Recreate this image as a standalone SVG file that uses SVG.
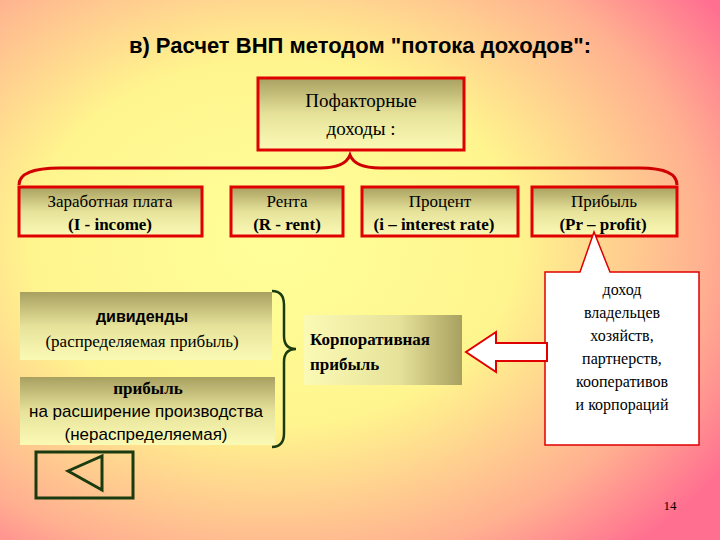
<svg xmlns="http://www.w3.org/2000/svg" width="720" height="540" viewBox="0 0 720 540">
<defs>
<radialGradient id="bg" cx="0.38" cy="0.45" r="0.75">
<stop offset="0" stop-color="#ffff99"/><stop offset="0.45" stop-color="#fff58e"/><stop offset="0.8" stop-color="#ffb090"/><stop offset="1" stop-color="#ff7090"/>
</radialGradient>
<linearGradient id="bx" x1="0" y1="0" x2="0" y2="1">
<stop offset="0" stop-color="#a8a060"/><stop offset="0.5" stop-color="#e6e29a"/><stop offset="1" stop-color="#fbfab5"/>
</linearGradient>
<linearGradient id="bx2" x1="0" y1="0" x2="1" y2="0">
<stop offset="0" stop-color="#fbfab5"/><stop offset="0.6" stop-color="#e6e29a"/><stop offset="1" stop-color="#a8a060"/>
</linearGradient>
<style>
.r{fill:url(#bx);stroke:#e00000;stroke-width:3}
.p{fill:url(#bx)}
.sf{font-family:'Liberation Serif','DejaVu Serif',serif}
.ss{font-family:'Liberation Sans','DejaVu Sans',sans-serif}
</style>
</defs>
<rect width="720" height="540" fill="url(#bg)"/>
<text class="ss" x="360" y="53" font-size="22" font-weight="bold" text-anchor="middle">в) Расчет ВНП методом "потока доходов":</text>
<g class="sf" font-size="17" text-anchor="middle">
<g id="top"><rect class="r" x="258" y="78" width="206" height="72"/>
<text x="361" y="107" font-size="19">Пофакторные</text><text x="361" y="135" font-size="19">доходы :</text></g>
<g id="n1"><rect class="r" x="19" y="187" width="183" height="49"/><text x="110" y="207">Заработная плата</text><text x="110" y="230" font-weight="bold">(I - income)</text></g>
<g id="n2"><rect class="r" x="231" y="187" width="112" height="49"/><text x="287" y="207">Рента</text><text x="287" y="230" font-weight="bold">(R - rent)</text></g>
<g id="n3"><rect class="r" x="362" y="187" width="156" height="49"/><text x="440" y="207">Процент</text><text x="434" y="230" font-weight="bold">(i – interest rate)</text></g>
<g id="n4"><rect class="r" x="532" y="187" width="145" height="49"/><text x="604" y="207">Прибыль</text><text x="603" y="230" font-weight="bold">(Pr – profit)</text></g>
<g id="div"><rect class="p" x="20" y="292" width="252" height="68"/><text class="ss" x="142" y="322" font-size="16" font-weight="bold">дивиденды</text><text x="142" y="347">(распределяемая прибыль)</text></g>
<g id="ret"><rect class="p" x="20" y="377" width="255" height="68"/><text x="148" y="394" font-weight="bold">прибыль</text><text class="ss" x="146" y="417">на расширение производства</text><text class="ss" x="146" y="440">(нераспределяемая)</text></g>
<g id="corp"><rect x="304" y="315" width="158" height="70" fill="url(#bx2)"/><text x="310" y="345" text-anchor="start" font-weight="bold">Корпоративная</text><text x="310" y="370" text-anchor="start" font-weight="bold">прибыль</text></g>
<g id="call"><path d="M545,272 L580,272 L594,232 L610,272 L699,272 L699,445 L545,445 Z" fill="#fff" stroke="#e00000" stroke-width="1.5"/>
<g font-size="16"><text x="622" y="295">доход</text><text x="622" y="318">владельцев</text><text x="622" y="341">хозяйств,</text><text x="622" y="364">партнерств,</text><text x="622" y="387">кооперативов</text><text x="622" y="410">и корпораций</text></g></g>
<text x="670" y="510" font-size="13">14</text>
</g>
<g id="connectors" fill="none">
<path d="M19,185 Q19,168 60,168 L320,168 Q345,168 350,155 Q355,168 380,168 L640,168 Q677,168 677,185" stroke="#d00000" stroke-width="3"/>
<path d="M272,291 Q284,291 284,305 L284,336 Q284,349 296,349 Q284,349 284,362 L284,433 Q284,447 272,447" stroke="#1a3a10" stroke-width="2.5"/>
<path d="M547,343 L547,361 L496,361 L496,372 L466,352 L496,332 L496,343 Z" fill="#fff" stroke="#e00000" stroke-width="2"/>
</g>
<g id="nav"><rect x="36" y="452" width="97" height="46" fill="none" stroke="#1a3a10" stroke-width="3"/><path d="M68,471 L102,456 L102,490 Z" fill="none" stroke="#1a3a10" stroke-width="3"/></g>
</svg>
